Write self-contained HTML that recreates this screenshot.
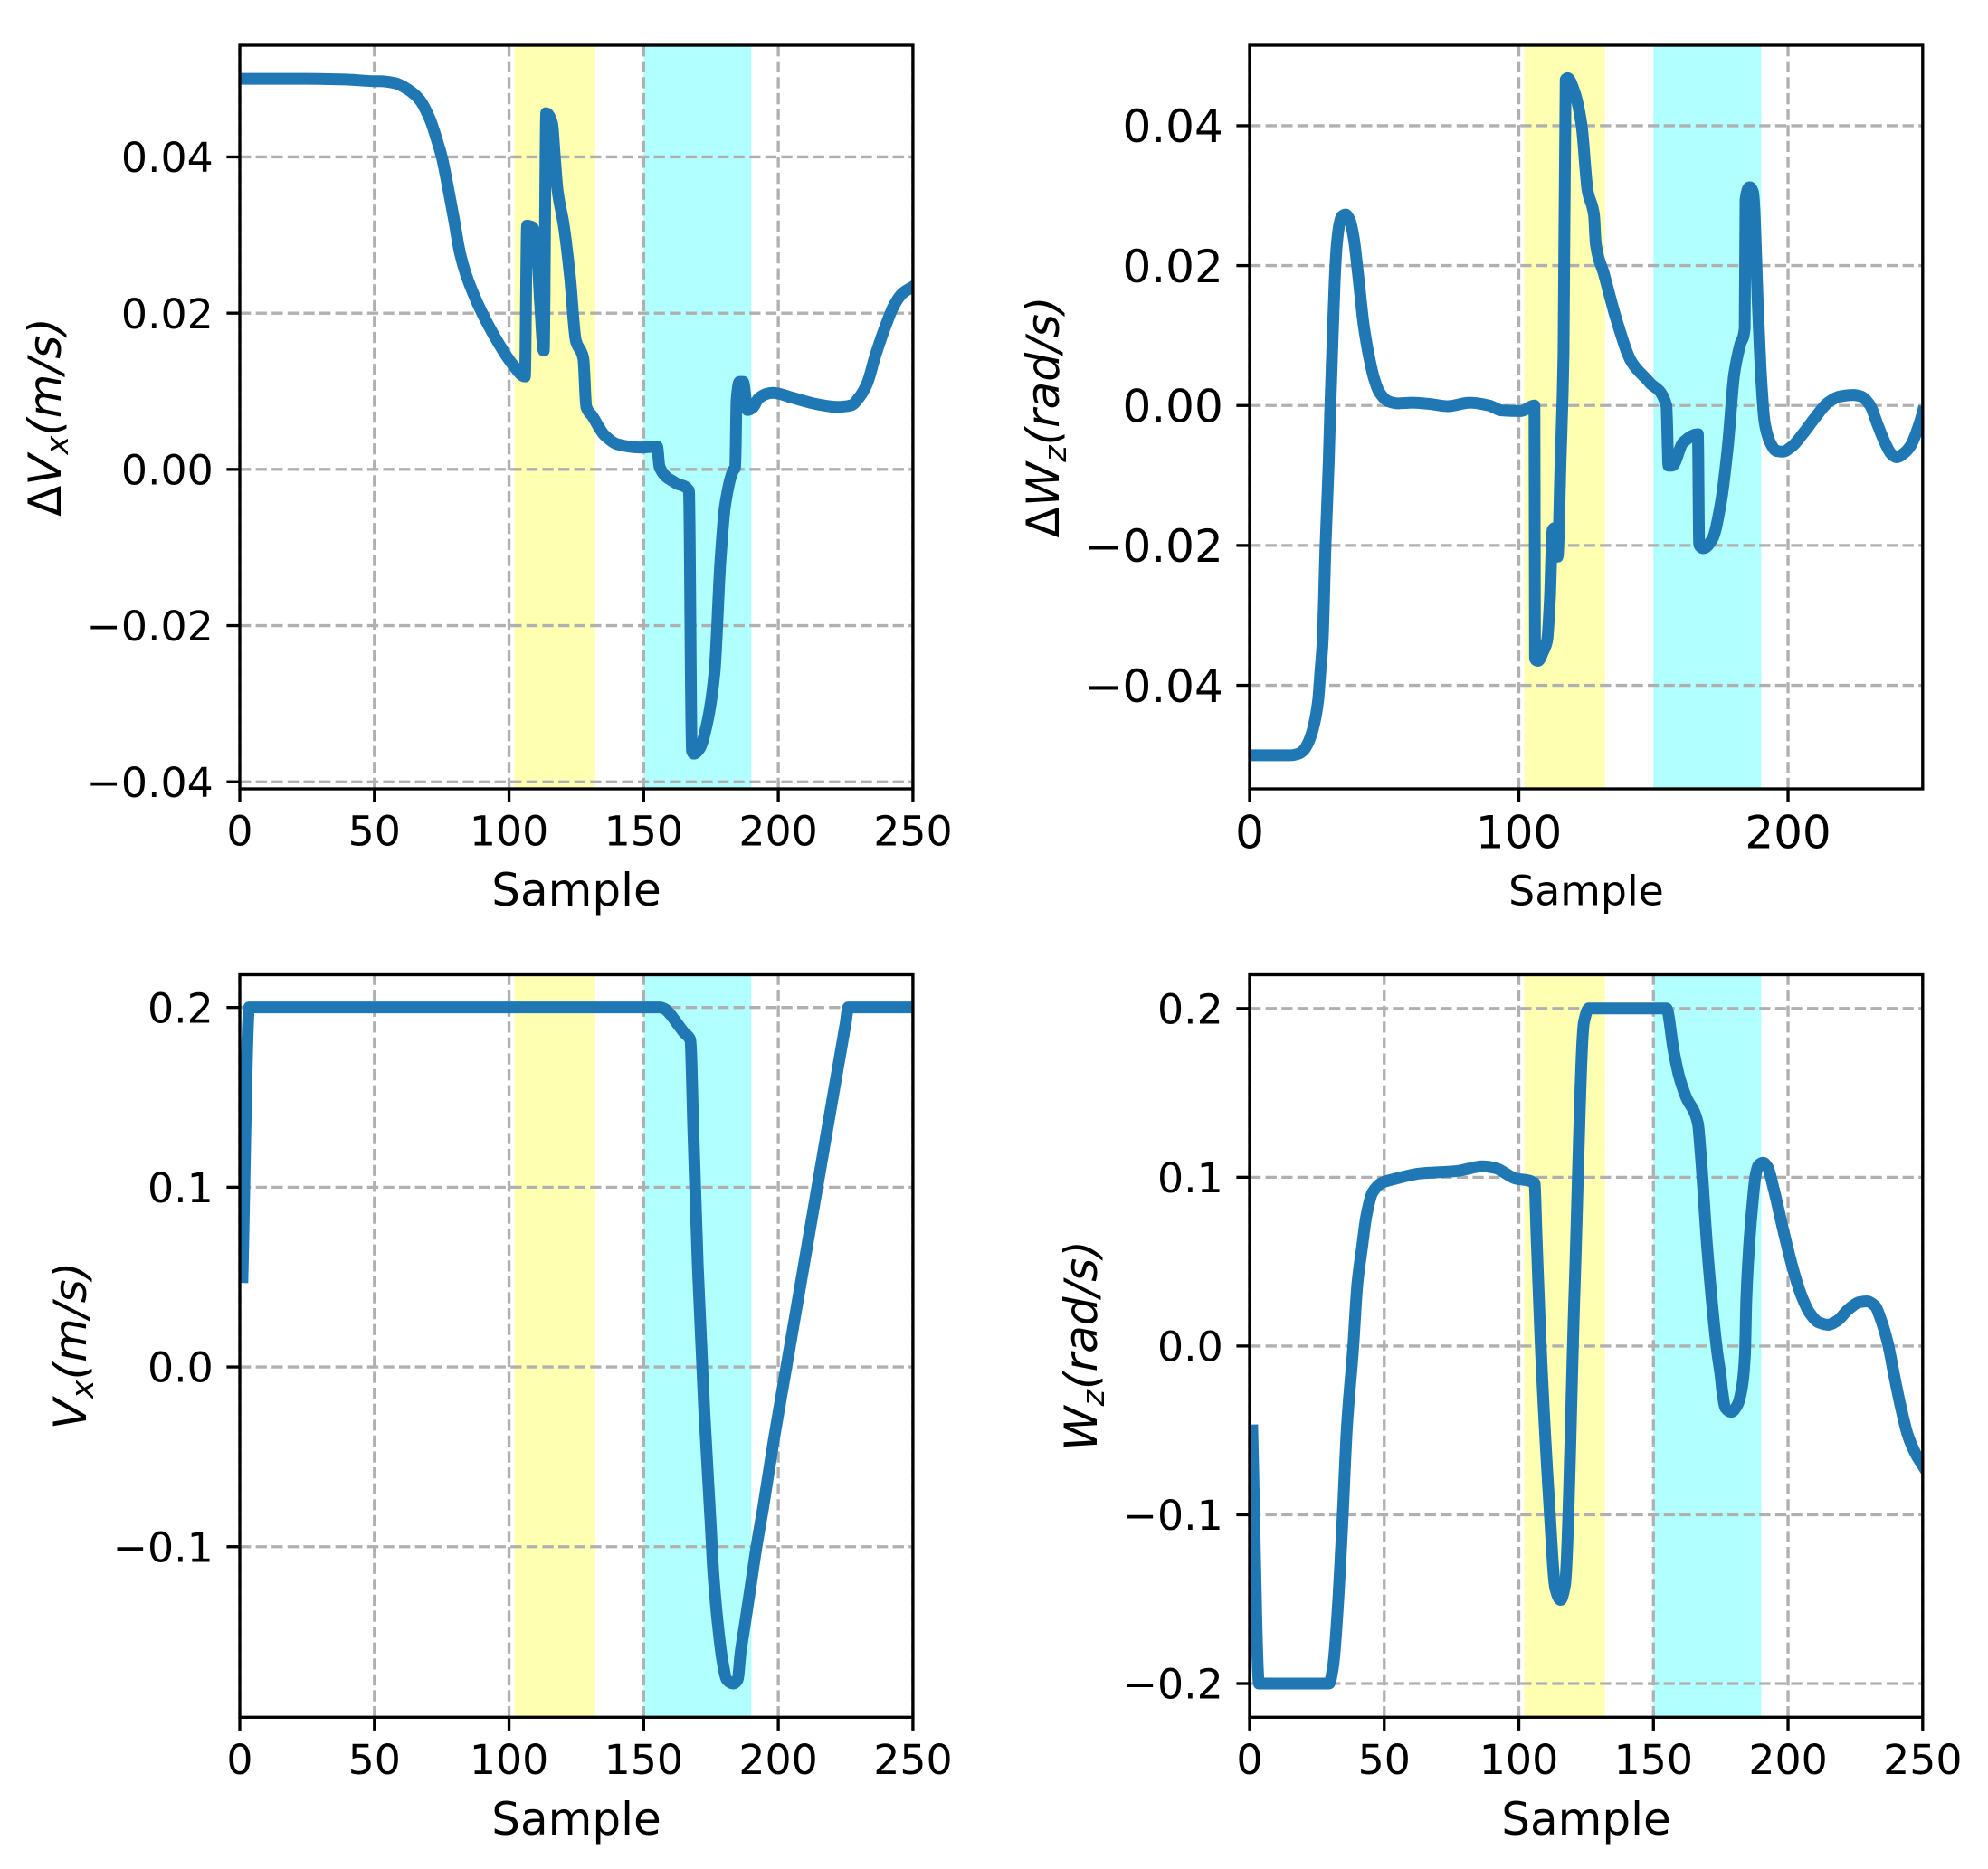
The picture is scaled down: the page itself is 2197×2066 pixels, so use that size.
<!DOCTYPE html>
<html lang="en">
<head>
<meta charset="utf-8">
<title>Velocity commands and deltas over samples</title>
<style>
html,body{margin:0;padding:0;background:#fff;width:2197px;height:2066px;overflow:hidden}
svg{display:block}
text{font-family:"DejaVu Sans","Liberation Sans",sans-serif;fill:#000}
</style>
</head>
<body>
<svg id="figure" xmlns="http://www.w3.org/2000/svg" width="2197" height="2066" viewBox="0 0 2197 2066">
  <rect x="0" y="0" width="2197" height="2066" fill="#ffffff"/>
  <g id="marks"></g>

  <text x="637" y="1001" font-size="50" text-anchor="middle">Sample</text>
  <text transform="translate(67,461) rotate(-90)" font-size="50" text-anchor="middle">Δ<tspan font-style="italic">V</tspan><tspan font-style="italic" font-size="35" dy="8">x</tspan><tspan font-style="italic" dy="-8">(m/s)</tspan></text>

  <text x="1753" y="1000.5" font-size="45.8" text-anchor="middle">Sample</text>
  <text transform="translate(1170,461) rotate(-90)" font-size="50" text-anchor="middle">Δ<tspan font-style="italic">W</tspan><tspan font-style="italic" font-size="35" dy="8">z</tspan><tspan font-style="italic" dy="-8">(rad/s)</tspan></text>

  <text x="637" y="2028" font-size="50" text-anchor="middle">Sample</text>
  <text transform="translate(95,1487.5) rotate(-90)" font-size="50" text-anchor="middle"><tspan font-style="italic">V</tspan><tspan font-style="italic" font-size="35" dy="8">x</tspan><tspan font-style="italic" dy="-8">(m/s)</tspan></text>

  <text x="1753" y="2028" font-size="50" text-anchor="middle">Sample</text>
  <text transform="translate(1212,1487.5) rotate(-90)" font-size="50" text-anchor="middle"><tspan font-style="italic">W</tspan><tspan font-style="italic" font-size="35" dy="8">z</tspan><tspan font-style="italic" dy="-8">(rad/s)</tspan></text>
</svg>

<script>
// Shared highlighted sample ranges
const yellowBand = [102, 132];
const cyanBand = [150, 190];

// Panel: delta Vx
const dvxSamples = [0,25,40,50,52.1,57.7,62.2,66.7,70.6,73.4,75.1,77.3,79.6,81.8,84,88,92.4,96.9,101.4,105.9,106.7,108.7,110.4,111.5,112.9,113.8,116,117,118,120.3,122.6,124.8,127.6,128.7,131,135.4,140.4,148.3,155,155.9,161.7,166.8,167.9,168.6,170.7,173.5,176.3,178.5,180.2,183.5,184,184.5,185.6,186.9,188.6,190.5,192.7,196,198,205,215,222,227,230,233,236,240,243,246,250];
const dvxValues = [0.05,0.05,0.0499,0.0497,0.0497,0.04945,0.0487,0.04736,0.04485,0.04195,0.0399,0.03616,0.03192,0.02767,0.02497,0.0215,0.0184,0.0157,0.0134,0.0119,0.0312,0.031,0.028,0.0215,0.0152,0.0456,0.0443,0.04,0.0358,0.0313,0.0248,0.0165,0.0142,0.008,0.0068,0.0044,0.0032,0.0028,0.0029,0.0003,-0.0017,-0.0027,-0.036,-0.0364,-0.0358,-0.0326,-0.026,-0.0118,-0.0047,0,0.0002,0.0088,0.0112,0.0112,0.0076,0.0079,0.0091,0.0097,0.0098,0.0092,0.0083,0.008,0.0082,0.0092,0.011,0.0145,0.0185,0.021,0.0225,0.0234];
const dvxXTicks = [0,50,100,150,200,250];
const dvxXLabels = ["0","50","100","150","200","250"];
const dvxYTicks = [0.04,0.02,0,-0.02,-0.04];
const dvxYLabels = ["0.04","0.02","0.00","−0.02","−0.04"];

// Panel: delta Wz
const dwzSamples = [0,15,18,20,22,24,25.5,26.3,27.1,28.2,29.4,30,30.8,31.6,32.3,33.3,34.2,35.6,37.2,38.7,40.3,42.4,44.3,46.2,48.2,51.5,54.9,60.5,67.2,73.6,81.8,88.9,93.6,100.7,105.8,106,107.1,109,110.5,111.5,112.5,113.3,114.4,115.5,116.6,117.4,118.1,120.6,123.3,125.6,127.9,128.6,131.7,136.3,141.9,148.5,154.8,155.6,157,161,166.5,167,168.6,172,175,177.7,180,182.2,183.9,184.2,185.8,187,188.9,190,191.3,193.5,195.7,198,201.3,205.8,210.3,214.8,219.3,224.3,227.1,230.5,233.3,236.1,238.3,240.3,242.8,245.6,247.8,249.8,250];
const dwzValues = [-0.05,-0.05,-0.0498,-0.0493,-0.048,-0.0455,-0.042,-0.038,-0.0339,-0.02,-0.008,0,0.0092,0.0178,0.0226,0.0258,0.027,0.0273,0.0265,0.0239,0.0187,0.0114,0.0071,0.0039,0.0019,0.0006,0.0003,0.0004,0.0002,-0.0001,0.0004,0,-0.0007,-0.0008,0,-0.0362,-0.0365,-0.0352,-0.0336,-0.028,-0.0178,-0.0175,-0.0216,-0.008,0.0074,0.0466,0.0468,0.0449,0.0401,0.0306,0.0273,0.0231,0.0187,0.0122,0.0062,0.0033,0,-0.0086,-0.0086,-0.0053,-0.0041,-0.0199,-0.0204,-0.019,-0.014,-0.0056,0.0045,0.0087,0.011,0.0294,0.0312,0.0305,0.0133,0.004,-0.0024,-0.0054,-0.0065,-0.0066,-0.0059,-0.0039,-0.0016,0.0004,0.0013,0.0015,0.0013,0,-0.0028,-0.0054,-0.0069,-0.0074,-0.0069,-0.0057,-0.0037,-0.0013,-0.001];
const dwzXTicks = [0,100,200];
const dwzXLabels = ["0","100","200"];
const dwzYTicks = [0.04,0.02,0,-0.02,-0.04];
const dwzYLabels = ["0.04","0.02","0.00","−0.02","−0.04"];

// Panel: Vx
const vxSamples = [1,3.5,156,158,160,162,165,167.3,168.5,170.1,172.5,174.8,175.9,177.6,179.3,180.9,183.2,184.9,186,187.7,189.4,191.9,194.4,198.4,203,210,220,225,226,228,250];
const vxValues = [0.05,0.2,0.2,0.199,0.196,0.192,0.186,0.182,0.129,0.056,-0.024,-0.085,-0.1152,-0.1438,-0.1639,-0.174,-0.1761,-0.174,-0.1589,-0.1421,-0.1253,-0.1,-0.078,-0.04,0,0.061,0.148,0.191,0.2,0.2,0.2];
const vxXTicks = [0,50,100,150,200,250];
const vxXLabels = ["0","50","100","150","200","250"];
const vxYTicks = [0.2,0.1,0,-0.1];
const vxYLabels = ["0.2","0.1","0.0","−0.1"];

// Panel: Wz
const wzSamples = [1,3.5,10,29.5,31,32.7,34.6,36.1,38.5,40,41.7,43.4,45.6,49.5,53.4,63.5,77,86.5,91.2,98.3,105.8,106.6,108.2,111.2,113.6,115.5,117.1,120.7,124.2,126,154.8,157.5,159.5,162,166.5,167.5,170,173.6,175,175.5,176.8,178.9,181.2,182.9,184,184.5,185.7,186.8,187.9,189,190.7,192.4,194.6,198,201.3,204.7,208.1,211.4,214.8,218.2,222.6,226.6,229.3,232.2,235,237.2,239.4,241.7,244.5,247.3,250];
const wzValues = [-0.05,-0.2,-0.2,-0.2,-0.19,-0.1564,-0.0998,-0.0493,0,0.0363,0.0578,0.0774,0.0908,0.097,0.0988,0.1023,0.1037,0.1065,0.1055,0.0995,0.0966,0.064,-0.0025,-0.091,-0.144,-0.1504,-0.142,0.033,0.192,0.2,0.2,0.175,0.16,0.148,0.132,0.115,0.0577,-0.0025,-0.0183,-0.026,-0.0368,-0.039,-0.0349,-0.0243,-0.0047,0.0274,0.0631,0.0845,0.1006,0.107,0.1086,0.106,0.0936,0.0702,0.0488,0.031,0.0194,0.014,0.0126,0.0149,0.022,0.026,0.0265,0.0239,0.0132,0.0006,-0.0172,-0.0349,-0.0529,-0.0636,-0.0707];
const wzXTicks = [0,50,100,150,200,250];
const wzXLabels = ["0","50","100","150","200","250"];
const wzYTicks = [0.2,0.1,0,-0.1,-0.2];
const wzYLabels = ["0.2","0.1","0.0","−0.1","−0.2"];

const SVG_NS = "http://www.w3.org/2000/svg";
const marksRoot = document.getElementById("marks");

function node(parent, tag, props, text) {
  const el = document.createElementNS(SVG_NS, tag);
  for (const key in props) el.setAttribute(key, props[key]);
  if (text !== undefined) el.textContent = text;
  parent.appendChild(el);
  return el;
}

// Monotone cubic path through the scaled points (smooth, no overshoot at sharp spikes)
function monotonePath(xs, ys) {
  const n = xs.length;
  const d = [], m = new Array(n);
  for (let i = 0; i < n - 1; i++) d.push((ys[i + 1] - ys[i]) / (xs[i + 1] - xs[i]));
  m[0] = d[0];
  m[n - 1] = d[n - 2];
  for (let i = 1; i < n - 1; i++) {
    if (d[i - 1] * d[i] <= 0) { m[i] = 0; continue; }
    const h0 = xs[i] - xs[i - 1], h1 = xs[i + 1] - xs[i];
    const w0 = 2 * h1 + h0, w1 = h1 + 2 * h0;
    m[i] = (w0 + w1) / (w0 / d[i - 1] + w1 / d[i]);
  }
  let path = "M" + xs[0].toFixed(2) + " " + ys[0].toFixed(2);
  for (let i = 0; i < n - 1; i++) {
    const h = (xs[i + 1] - xs[i]) / 3;
    path += "C" + (xs[i] + h).toFixed(2) + " " + (ys[i] + m[i] * h).toFixed(2) + " " +
      (xs[i + 1] - h).toFixed(2) + " " + (ys[i + 1] - m[i + 1] * h).toFixed(2) + " " +
      xs[i + 1].toFixed(2) + " " + ys[i + 1].toFixed(2);
  }
  return path;
}

function drawPanel(cfg) {
  const scaleX = v => cfg.left + (v - cfg.xMin) / (cfg.xMax - cfg.xMin) * (cfg.right - cfg.left);
  const scaleY = v => cfg.bottom - (v - cfg.yMin) / (cfg.yMax - cfg.yMin) * (cfg.bottom - cfg.top);
  const w = cfg.right - cfg.left;
  const h = cfg.bottom - cfg.top;

  const group = node(marksRoot, "g", {});
  
  

  const defs = node(group, "defs", {});
  const clip = node(defs, "clipPath", {id: "clip-" + cfg.id});
  node(clip, "rect", {x: cfg.left, y: cfg.top, width: w, height: h});

  const yellow = node(group, "rect", {x: scaleX(yellowBand[0]), y: cfg.top, width: scaleX(yellowBand[1]) - scaleX(yellowBand[0]), height: h, fill: "#ffffb2"});
  
  

  const cyan = node(group, "rect", {x: scaleX(cyanBand[0]), y: cfg.top, width: scaleX(cyanBand[1]) - scaleX(cyanBand[0]), height: h, fill: "#b2ffff"});
  
  

  const gridStyle = {stroke: "#b0b0b0", "stroke-width": 3.33, "stroke-dasharray": "12.3 5.3", fill: "none"};

  cfg.xTicks.forEach((t, i) => {
    const x = scaleX(t);
    const g = node(group, "line", Object.assign({x1: x, x2: x, y1: cfg.bottom, y2: cfg.top}, gridStyle));
    
    
    const tick = node(group, "line", {x1: x, x2: x, y1: cfg.bottom, y2: cfg.bottom + 14.6, stroke: "#000", "stroke-width": 3.33});
    
    
    const label = node(group, "text", {x: x, y: cfg.bottom + 29.2 + cfg.tickFont * 0.729, "font-size": cfg.tickFont, "text-anchor": "middle"}, cfg.xLabels[i]);
    
    
  });

  cfg.yTicks.forEach((t, i) => {
    const y = scaleY(t);
    const g = node(group, "line", Object.assign({x1: cfg.left, x2: cfg.right, y1: y, y2: y}, gridStyle));
    
    
    const tick = node(group, "line", {x1: cfg.left - 14.6, x2: cfg.left, y1: y, y2: y, stroke: "#000", "stroke-width": 3.33});
    
    
    const label = node(group, "text", {x: cfg.left - 29.2, y: y + cfg.tickFont * 0.3645, "font-size": cfg.tickFont, "text-anchor": "end"}, cfg.yLabels[i]);
    
    
  });

  const d = monotonePath(cfg.samples.map(scaleX), cfg.values.map(scaleY));
  const line = node(group, "path", {d: d, fill: "none", stroke: "#1f77b4", "stroke-width": 13, "stroke-linejoin": "round", "stroke-linecap": "square", "clip-path": "url(#clip-" + cfg.id + ")"});
  
  

  const frame = node(group, "rect", {x: cfg.left, y: cfg.top, width: w, height: h, fill: "none", stroke: "#000", "stroke-width": 3.33});
  
  
}

drawPanel({id: "delta-vx", left: 265, right: 1008.9, top: 50, bottom: 872, xMin: 0, xMax: 250, yMin: -0.0409, yMax: 0.0543, tickFont: 45.8,
  samples: dvxSamples, values: dvxValues, xTicks: dvxXTicks, xLabels: dvxXLabels, yTicks: dvxYTicks, yLabels: dvxYLabels});
drawPanel({id: "delta-wz", left: 1381, right: 2124.8, top: 50, bottom: 872, xMin: 0, xMax: 250, yMin: -0.0548, yMax: 0.0515, tickFont: 50,
  samples: dwzSamples, values: dwzValues, xTicks: dwzXTicks, xLabels: dwzXLabels, yTicks: dwzYTicks, yLabels: dwzYLabels});
drawPanel({id: "vx", left: 265, right: 1008.9, top: 1077.5, bottom: 1898.3, xMin: 0, xMax: 250, yMin: -0.1949, yMax: 0.2182, tickFont: 45.8,
  samples: vxSamples, values: vxValues, xTicks: vxXTicks, xLabels: vxXLabels, yTicks: vxYTicks, yLabels: vxYLabels});
drawPanel({id: "wz", left: 1381, right: 2124.8, top: 1077.5, bottom: 1898.3, xMin: 0, xMax: 250, yMin: -0.22, yMax: 0.22, tickFont: 45.8,
  samples: wzSamples, values: wzValues, xTicks: wzXTicks, xLabels: wzXLabels, yTicks: wzYTicks, yLabels: wzYLabels});
</script>
</body>
</html>
